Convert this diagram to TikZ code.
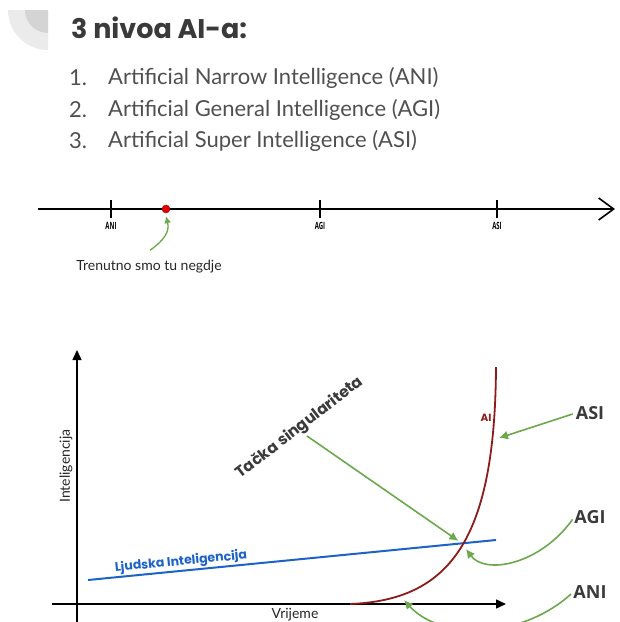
\documentclass[tikz,border=0pt]{standalone}
\usepackage{fontspec}
\setmainfont{Lato}
\newfontfamily\popfont{Poppins}
\newfontfamily\lblfont{Open Sans}
\usetikzlibrary{arrows.meta, positioning}
\definecolor{txtgray}{HTML}{505050}
\definecolor{darkgray}{HTML}{3A3A3A}
\definecolor{arrgreen}{HTML}{6CA84C}
\definecolor{aired}{HTML}{8E1B1B}
\definecolor{humblue}{HTML}{1D63C6}
\tikzstyle{every node}=[inner sep=0pt]
\tikzstyle{item}=[anchor=west, text=txtgray, font=\fontsize{22}{24}\selectfont]
\tikzstyle{tick}=[font=\lblfont\bfseries\fontsize{10}{11}\selectfont]
\tikzstyle{level}=[text=darkgray, font=\lblfont\bfseries\fontsize{18}{20}\selectfont]
\tikzstyle{greenarrow}=[draw=arrgreen, line width=1.6pt, -{Latex[length=9pt,width=9pt]}]
\newcommand{\narrow}[1]{\scalebox{.6}[1]{#1}}

\begin{document}
\begin{tikzpicture}[x=1pt, y=-1pt]
  \useasboundingbox (0,0) rectangle (620,622);
  \clip (0,0) rectangle (620,622);
  \fill[black!8] (8,10) -- (48,10) -- (48,50) arc[start angle=90, end angle=180, radius=40] -- cycle;
  \fill[black!17] (25,10) -- (48,10) -- (48,33) arc[start angle=90, end angle=180, radius=23] -- cycle;
  \node[anchor=west, text=darkgray, font=\popfont\bfseries\fontsize{27}{30}\selectfont] (title) at (71,28) {3 nivoa AI-a:};

  \node[item] (n1) at (69,78) {1.};
  \node[item] (t1) at (108,78) {Artificial Narrow Intelligence (ANI)};
  \node[item] (n2) at (69,110) {2.};
  \node[item] (t2) at (108,110) {Artificial General Intelligence (AGI)};
  \node[item] (n3) at (69,141) {3.};
  \node[item] (t3) at (108,141) {Artificial Super Intelligence (ASI)};

  \coordinate (tl0) at (38,209);
  \coordinate (tl1) at (615,209);
  \draw[line width=1.4pt, -{Straight Barb[length=15pt, width=22pt, line width=1.6pt]}] (tl0) -- (tl1);
  \foreach \x/\lab in {111/ANI, 320/AGI, 497/ASI} {
    \draw[line width=1.2pt] (\x,200) -- (\x,218) node[tick, below=4pt] (t-\lab) {\narrow{\lab}};
  }
  \node[circle, fill=red!90!black, draw=red!60!black, minimum size=8pt] (now) at (166,209) {};
  \node[text=black!85, font=\fontsize{14}{16}\selectfont] (here) at (149,267) {Trenutno smo tu negdje};
  \draw[greenarrow, line width=1.3pt, -{Latex[length=7pt,width=7pt]}] ([xshift=1pt, yshift=10pt]here.north) .. controls (164,240) and (170,232) .. ([yshift=-3pt]now.south);

  \coordinate (yb) at (77,622);
  \coordinate (yt) at (77,350);
  \coordinate (xl) at (52,604);
  \coordinate (xr) at (506,604);
  \draw[line width=1.5pt, -{Triangle[length=10pt, width=9pt]}] (yb) -- (yt);
  \draw[line width=1.5pt, -{Triangle[length=10pt, width=9pt]}] (xl) -- (xr);
  \node[rotate=90, text=black!85, font=\fontsize{14}{16}\selectfont] (ylab) at (66,466) {Inteligencija};
  \node[text=black!85, font=\fontsize{14}{16}\selectfont] (xlab) at (295,615) {Vrijeme};

  \coordinate (h0) at (88,580);
  \coordinate (h1) at (496,540);
  \draw[humblue, line width=2pt] (h0) -- (h1);
  \node[rotate=5.6, text=humblue, font=\popfont\bfseries\fontsize{12.5}{14}\selectfont] (hlab) at (181,562) {Ljudska Inteligencija};

  \coordinate (ai0) at (350,604);
  \coordinate (ai3) at (496,367);
  \draw[aired, line width=1.8pt] (ai0) .. controls (450,600) and (495,540) .. (ai3);
  \node[text=aired, font=\popfont\bfseries\fontsize{10.5}{12}\selectfont] (ailab) at (486,418) {AI};

  \node[rotate=37.6, text=darkgray, font=\popfont\bfseries\fontsize{15.5}{18}\selectfont] (sing) at (300,428) {Tačka singulariteta};
  \coordinate (sp) at (460,542);
  \coordinate (aiup) at (499,438);
  \coordinate (aimid) at (466,549);
  \coordinate (ailow) at (404,600);

  \node[level] (asi) at (590,413) {ASI};
  \node[level] (agi) at (590,517) {AGI};
  \node[level] (ani) at (590,592) {ANI};

  \draw[greenarrow, shorten <=2pt, shorten >=2pt] (sing.south) -- (sp);
  \draw[greenarrow, shorten <=3pt] (asi.west) -- (aiup);
  \draw[greenarrow, shorten <=3pt] (agi.west) .. controls (540,565) and (485,575) .. (aimid);
  \draw[greenarrow, shorten <=3pt] (ani.west) .. controls (520,640) and (440,640) .. (ailow);
\end{tikzpicture}
\end{document}
